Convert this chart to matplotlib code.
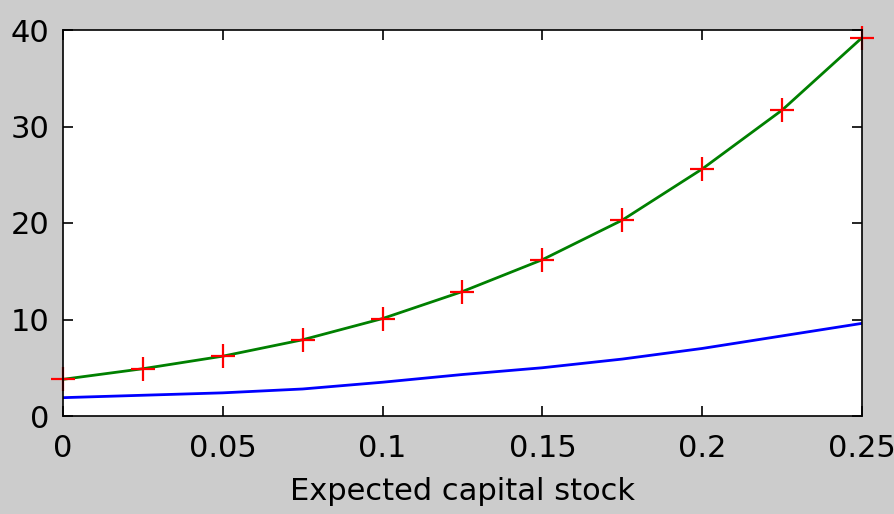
import numpy as np
import matplotlib
matplotlib.use("Agg")
import matplotlib.pyplot as plt

# values
capital = [0, 0.025, 0.05, 0.075, 0.1, 0.125, 0.15, 0.175, 0.2, 0.225, 0.25]
upper = [3.8, 4.9, 6.2, 7.9, 10.1, 12.9, 16.2, 20.3, 25.6, 31.7, 39.2]
lower = [1.9, 2.15, 2.4, 2.8, 3.5, 4.3, 5.0, 5.9, 7.0, 8.3, 9.6]

xticks = [0, 0.05, 0.1, 0.15, 0.2, 0.25]
xtick_labels = ['0', '0.05', '0.1', '0.15', '0.2', '0.25']
yticks = [0, 10, 20, 30, 40]

fig = plt.figure(figsize=(8.95, 5.14), dpi=100, facecolor='#cccccc')
ax = fig.add_axes([63/895, 1-416/514, 799/895, 386/514])
ax.set_facecolor('white')

ax.plot(capital, lower, color='#0000ff', lw=2)
ax.plot(capital, upper, color='#008000', lw=2)
ax.plot(capital, upper, ls='none', marker='+', color='#ff0000', ms=17, mew=1.6, clip_on=False)

ax.set_xlim(0, 0.25)
ax.set_ylim(0, 40)
ax.set_xticks(xticks)
ax.set_xticklabels(xtick_labels)
ax.set_yticks(yticks)
ax.tick_params(direction='in', length=7, width=1.2, top=True, right=True,
               labelsize=22, colors='black')
ax.tick_params(axis='x', pad=13)
ax.tick_params(axis='y', pad=10)
for s in ax.spines.values():
    s.set_linewidth(1.2)

ax.set_xlabel('Expected capital stock', fontsize=22, labelpad=10)

fig.savefig('out.png', dpi=100, facecolor=fig.get_facecolor())
